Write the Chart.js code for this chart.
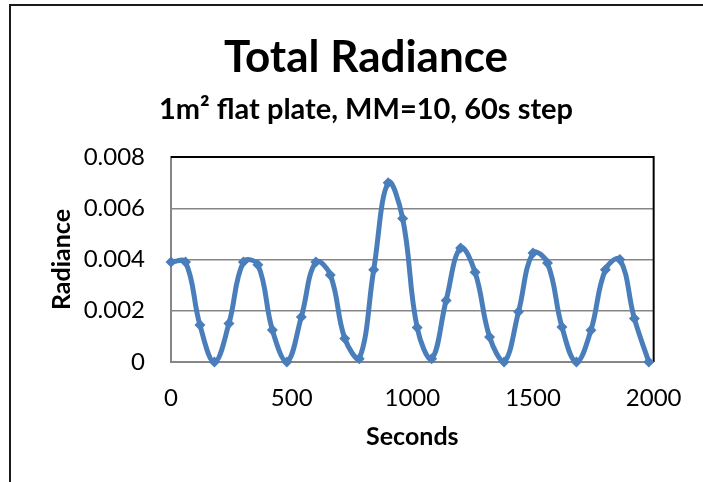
<!DOCTYPE html>
<html>
<head>
<meta charset="utf-8">
<script src="https://cdn.jsdelivr.net/npm/chart.js@4/dist/chart.umd.min.js"></script>
<style>
  html, body { margin: 0; padding: 0; background: #ffffff; }
  #wrap { width: 703px; height: 482px; }
</style>
</head>
<body>
<div id="wrap"><canvas id="chart" width="703" height="482"></canvas></div>
<script>
// Sample times (s), one every 60 s
const seconds = [0, 60, 120, 180, 240, 300, 360, 420, 480, 540, 600, 660,
  720, 780, 840, 900, 960, 1020, 1080, 1140, 1200, 1260, 1320, 1380,
  1440, 1500, 1560, 1620, 1680, 1740, 1800, 1860, 1920, 1980];

// Total radiance at each sample
const radiance = [0.0039, 0.0039, 0.00144, 0.0000, 0.0015, 0.0039, 0.0038, 0.00125,
  0.0000, 0.00176, 0.0039, 0.0034, 0.00092, 0.00013, 0.0036, 0.0070,
  0.0056, 0.00135, 0.00013, 0.0024, 0.00445, 0.0035, 0.00098, 0.0000,
  0.00196, 0.00425, 0.00386, 0.00137, 0.0000, 0.00124, 0.0036, 0.0040,
  0.0017, 0.0000];

const xTicks = [0, 500, 1000, 1500, 2000];
const yTicks = [0, 0.002, 0.004, 0.006, 0.008];

const titleText = 'Total Radiance';
const subtitleText = '1m\u00B2 flat plate, MM=10, 60s step';
const xTitle = 'Seconds';
const yTitle = 'Radiance';

Chart.defaults.font.family = 'Lato, "Open Sans", sans-serif';
Chart.defaults.color = '#000000';

// Frame around the chart, black top/right edges of the plot area,
// and titles centred on the framed chart area (10 px .. 722 px)
const framePlugin = {
  id: 'frame',
  afterLayout(chart) {
    chart.boxes.forEach(b => {
      if (b.options && typeof b.options.text === 'string') {
        b.left = 10;
        b.right = 722;
        b.width = 712;
      }
    });
  },
  beforeDraw(chart) {
    const ctx = chart.ctx;
    ctx.save();
    ctx.fillStyle = '#ffffff';
    ctx.fillRect(0, 0, chart.width, chart.height);
    ctx.strokeStyle = '#1a1a1a';
    ctx.lineWidth = 2;
    ctx.strokeRect(10, 5, chart.width + 40, chart.height + 40);
    ctx.restore();
  },
  beforeDatasetsDraw(chart) {
    const { ctx, chartArea: a } = chart;
    ctx.save();
    ctx.strokeStyle = '#000000';
    ctx.lineWidth = 2;
    ctx.beginPath();
    ctx.moveTo(a.left, a.top);
    ctx.lineTo(a.right, a.top);
    ctx.lineTo(a.right, a.bottom);
    ctx.stroke();
    ctx.restore();
  }
};

const points = seconds.map((s, i) => ({ x: s, y: radiance[i] }));

new Chart(document.getElementById('chart'), {
  type: 'scatter',
  data: {
    datasets: [{
      data: points,
      showLine: true,
      borderColor: '#4A7EBB',
      backgroundColor: '#4A7EBB',
      borderWidth: 5,
      tension: 0.4,
      pointStyle: 'rectRot',
      pointRadius: 5.5,
      pointBorderWidth: 0,
      clip: false
    }]
  },
  options: {
    responsive: false,
    animation: false,
    layout: { padding: { top: 0, right: 45, bottom: 0, left: 0 } },
    plugins: {
      legend: { display: false },
      tooltip: { enabled: false },
      title: {
        display: true,
        text: titleText,
        font: { size: 44, weight: 'bold' },
        color: '#000000',
        padding: { top: 31, bottom: 0 }
      },
      subtitle: {
        display: true,
        text: subtitleText,
        font: { size: 29, weight: 'bold' },
        color: '#000000',
        padding: { top: 8.8, bottom: 29.6 }
      }
    },
    scales: {
      x: {
        type: 'linear',
        min: xTicks[0],
        max: xTicks[xTicks.length - 1],
        afterBuildTicks(scale) { scale.ticks = xTicks.map(v => ({ value: v })); },
        afterFit(scale) { scale.height = 120; },
        ticks: { font: { size: 24 }, padding: 21.5, maxRotation: 0, callback: v => String(v) },
        grid: { drawOnChartArea: false, drawTicks: false },
        border: { display: true, color: '#868686', width: 2 },
        title: { display: true, text: xTitle, font: { size: 25, weight: 'bold' }, padding: { top: 0, bottom: 30 } }
      },
      y: {
        type: 'linear',
        min: yTicks[0],
        max: yTicks[yTicks.length - 1],
        afterBuildTicks(scale) { scale.ticks = yTicks.map(v => ({ value: v })); },
        afterFit(scale) { scale.width = 171; },
        ticks: { font: { size: 24 }, padding: 26, callback: v => (v === 0 ? '0' : v.toFixed(3)) },
        grid: {
          drawTicks: false,
          color: c => (c.tick && c.tick.value === 0.008 ? '#000000' : '#868686'),
          lineWidth: 1.5
        },
        border: { display: true, color: '#868686', width: 2 },
        title: { display: true, text: yTitle, font: { size: 25, weight: 'bold' }, padding: { top: 47, bottom: 0 } }
      }
    }
  },
  plugins: [framePlugin]
});
</script>
</body>
</html>
